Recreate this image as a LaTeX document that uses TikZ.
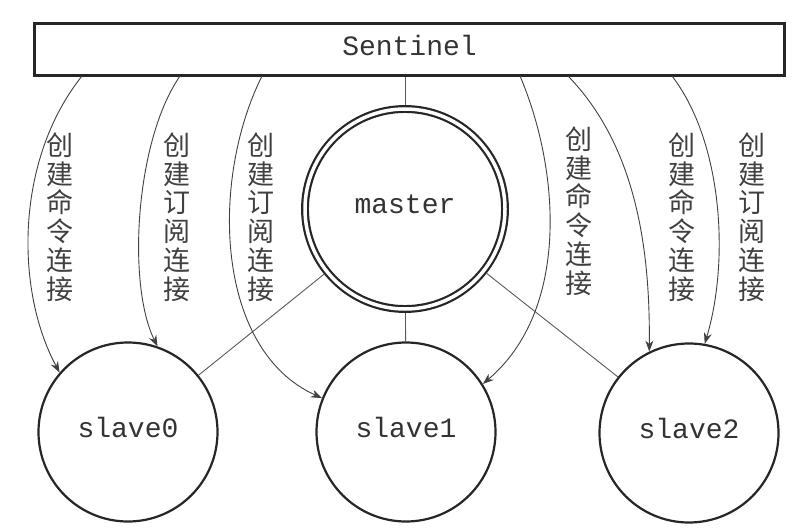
\documentclass[tikz,border=0pt]{standalone}
\usepackage{fontspec}
\setmonofont{Liberation Mono}
\newfontfamily\cjk{Noto Sans CJK SC}
\usetikzlibrary{arrows.meta}
\begin{document}
\begin{tikzpicture}[x=1pt,y=-1pt,
  boxnode/.style={rectangle, draw=black!85, line width=3pt, minimum width=750pt, minimum height=52pt, inner sep=0pt, text depth=8pt, font=\ttfamily\fontsize{28}{30}\selectfont, text=black!80},
  slavec/.style={circle, draw=black!85, line width=2.2pt, minimum size=179pt, inner sep=0pt, text depth=9pt, font=\ttfamily\fontsize{28}{30}\selectfont, text=black!80},
  masterc/.style={circle, draw=black!85, double, double distance=3.5pt, line width=2.2pt, minimum size=200pt, inner sep=0pt, outer sep=4pt, text depth=10pt, font=\ttfamily\fontsize{28}{30}\selectfont, text=black!80},
  lab/.style={align=center, font=\cjk\fontsize{27}{28.8}\selectfont, text=black!75, inner sep=0pt},
  conn/.style={draw=black!65, line width=0.9pt},
  arr/.style={draw=black!75, line width=0.9pt, -{Stealth[length=11pt,width=8pt]}}
]
\useasboundingbox (0,0) rectangle (800,532);

\node[boxnode] (sentinel) at (409.5,49.5) {Sentinel};
\node[masterc] (master) at (405,209) {master};
\node[slavec] (slave0) at (128,432) {slave0};
\node[slavec] (slave1) at (406,432) {slave1};
\node[slavec] (slave2) at (689,433) {slave2};

% plain connections
\draw[conn] (master.north) -- (master.north |- sentinel.south);
\draw[conn] (master) -- (slave0);
\draw[conn] (master) -- (slave1);
\draw[conn] (master) -- (slave2);

% start points on the Sentinel box
\coordinate (s1) at (82,76);
\coordinate (s2) at (180,76);
\coordinate (s3) at (262,76);
\coordinate (s4) at (520,76);
\coordinate (s5) at (568,76);
\coordinate (s6) at (672,76);

\draw[arr] (s1) .. controls (15,160) and (15,290) .. (slave0.139);
\draw[arr] (s2) .. controls (135,141) and (127,285) .. (slave0.71);
\draw[arr] (s3) .. controls (210,180) and (215,350) .. (slave1.158);
\draw[arr] (s4) .. controls (560,170) and (570,310) .. (slave1.32);
\draw[arr] (s5) .. controls (640,150) and (650,260) .. (slave2.116);
\draw[arr] (s6) .. controls (722,141) and (730,259) .. (slave2.80);

% labels
\node[lab] (l1) at (60,217) {创\\建\\命\\令\\连\\接};
\node[lab] (l2) at (177,217) {创\\建\\订\\阅\\连\\接};
\node[lab] (l3) at (261,217) {创\\建\\订\\阅\\连\\接};
\node[lab] (l4) at (579,211) {创\\建\\命\\令\\连\\接};
\node[lab] (l5) at (682,217) {创\\建\\命\\令\\连\\接};
\node[lab] (l6) at (752,217) {创\\建\\订\\阅\\连\\接};
\end{tikzpicture}
\end{document}
